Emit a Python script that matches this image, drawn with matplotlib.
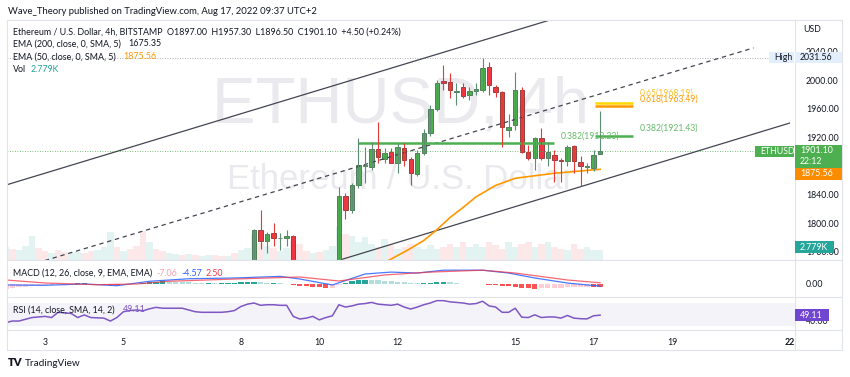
import matplotlib
matplotlib.use("Agg")
import matplotlib.pyplot as plt
from matplotlib.patches import Rectangle
from matplotlib.lines import Line2D

plt.rcParams['font.family'] = ['Lato', 'DejaVu Sans']

W, H = 850, 377
TXT = '#131722'
GRID = '#e0e3eb'

# ---- data: 4h candles, x = candle number counted from Aug 2 00:00 UTC (6 per day) ----
candle_x = [38, 39, 40, 41, 42, 43, 44] + list(range(51, 92))
opens = [1718, 1790, 1775, 1787, 1779, 1780, 1782,
         1700, 1838, 1819, 1854, 1880, 1879, 1904, 1890, 1900, 1885,
         1906, 1890, 1869, 1899, 1926, 1960, 1999, 1997, 1983, 1990,
         1980, 1985, 1987, 2018, 1990, 1983, 1930, 1937, 1987, 1900,
         1892, 1919, 1892, 1896, 1888, 1887, 1908, 1886, 1879, 1878, 1897]
highs = [1792, 1819, 1788, 1801, 1787, 1790, 1784,
         1851, 1842, 1856, 1919, 1907, 1914, 1942, 1906, 1906, 1913,
         1912, 1893, 1902, 1932, 1966, 2000, 2021, 2010, 1996, 1996,
         1990, 1996, 2031.56, 2025, 1994, 1985, 1953, 2011, 1990, 1910,
         1920, 1933, 1914, 1903, 1892, 1910, 1910, 1894, 1885, 1903, 1957.3]
lows = [1712, 1764, 1758, 1768, 1763, 1768, 1700,
        1690, 1806, 1815, 1850, 1857, 1875, 1885, 1884, 1884, 1871,
        1880, 1854, 1866, 1896, 1922, 1957, 1986, 1975, 1966, 1975,
        1972, 1980, 1983, 1980, 1976, 1907, 1921, 1930, 1898, 1888,
        1875, 1888, 1880, 1858, 1858, 1880, 1870, 1852, 1870, 1873, 1896.5]
closes = [1790, 1775, 1785, 1780, 1779.5, 1782, 1710,
          1838, 1819, 1854, 1882, 1882, 1904, 1893, 1899, 1885, 1907,
          1889, 1871, 1899, 1926, 1960, 1996, 1996, 1987, 1985, 1978,
          1985, 1988, 2017, 1993, 1983, 1935, 1935, 1987, 1900, 1892,
          1919, 1892, 1900, 1889, 1887, 1907, 1887, 1880, 1880, 1896, 1901.1]

# volume (K) and direction for every candle 0..91
vol_k = [3.6, 3.1, 2.8, 3.9, 6.7, 3.4, 2.5, 2.0, 2.8, 2.2, 2.0, 2.2, 2.0, 2.5, 2.8, 3.6, 7.8, 3.6, 2.5, 3.1,
         3.9, 8.1, 5.0, 3.1, 2.5, 2.0, 1.7, 1.4, 1.7, 1.4, 1.1, 1.4, 1.4, 1.1, 1.1, 2.0, 2.8, 3.4, 7.3, 4.8,
         3.9, 3.4, 2.5, 3.4, 5.3, 4.5, 2.5, 2.0, 2.2, 2.8, 3.9, 9.2, 7.3, 6.7, 5.0, 6.4, 4.5, 3.6, 5.9, 4.1,
         3.1, 3.6, 4.5, 3.6, 3.1, 4.1, 3.1, 3.6, 4.5, 3.6, 5.0, 3.6, 4.5, 3.6, 5.0, 4.1, 3.1, 5.0, 3.6, 4.5,
         5.0, 3.6, 4.5, 5.0, 3.6, 3.1, 2.8, 4.5, 3.1, 3.6, 2.8, 2.779]
vol_up = [1, 0, 1, 1, 1, 0, 0, 1, 0, 0, 1, 1, 0, 0, 1, 1, 1, 0, 1, 0,
          0, 0, 1, 0, 0, 1, 1, 0, 1, 0, 1, 1, 0, 0, 1, 0, 1, 1, 1, 0,
          1, 0, 1, 1, 0, 0, 0, 1, 0, 1, 1, 1, 0, 1, 1, 1, 1, 0, 1, 0,
          1, 0, 0, 1, 1, 1, 1, 0, 0, 1, 0, 1, 1, 1, 0, 0, 0, 1, 1, 0,
          0, 1, 0, 1, 0, 0, 1, 0, 0, 1, 1, 1]

macd_hist = [-10, -9, -7, -6, -5, -4, -3, -2, -1, 0.5, 1, 1.5, 1.5, 1, -0.5, -1.5, -2.5, -3, -2, -1,
             1, 2.5, 4, 5, 5.5, 5, 4.5, 4, 3.5, 3, 2.5, 2.5, 2, 2.5, 3, 3, 3.5, 4, 4, 3.5,
             3, 3, 2.5, 1, -2, -4, -5, -6, -7, -8, -8, -2, 3, 6, 8, 9, 8.5, 8, 6.5, 5.5,
             4.5, 3.5, 2, 1.5, 2, 3, 4, 4.5, 3.5, 2, 1, 0.5, 0.5, -0.5, -2, -3, -4.5, -5, -6, -8,
             -9, -10, -9, -8.5, -8, -7.5, -7, -6.5, -6.5, -6.5, -7, -7.06]
macd_x = [0, 6, 12, 17, 22, 28, 35, 42, 45, 50, 55, 59, 63, 67, 73, 77, 81, 86, 91]
macd_line = [-2.1, -2.7, 0, -3.6, 5.7, 11, 12.6, 16, 10.5, -2, 21, 25, 23, 29, 29, 23, 12.6, 2, -4.57]
signal_x = [0, 6, 14, 20, 25, 32, 40, 45, 51, 58, 65, 73, 78, 86, 91]
signal_line = [8.4, 2.1, -1.5, 0, 5.7, 9, 12.6, 14.7, 6.3, 19, 25, 29, 23, 8.4, 2.5]

rsi = [36.4, 39, 39, 42, 45, 46, 47, 45, 54, 53, 52, 45, 49.5, 45, 44.5, 44, 39, 45, 55, 57,
       58, 56.6, 60, 62.5, 61, 61, 61, 61, 58, 55, 54, 54, 54, 54, 55, 57, 64, 68, 70, 66,
       67, 67, 66, 66, 47, 42.5, 44, 47, 41, 45, 48, 67, 63, 65, 68, 69, 71, 68, 67, 66,
       68, 63, 59.6, 63, 67, 70, 74, 74, 72, 71, 70, 68, 69, 73, 65, 63, 54, 54, 61, 45.6,
       45, 49.7, 45, 46, 46, 44, 48.6, 44, 43, 42.7, 48, 49.11]

ema50_x = [56, 59, 62, 64, 66, 68, 70, 72, 75, 78, 84, 91]
ema50 = [1735, 1750, 1765, 1776, 1791, 1808, 1822, 1837, 1853, 1863, 1870, 1875.56]

# drawings: channel (x0, price0, x1, price1)
upper_line = (0, 1853.5, 90, 2102.8)
mid_line = (0, 1731.6, 114.5, 2045.3)
lower_line = (51.5, 1749.7, 120, 1940.1)

fib_price = [1912.23, 1921.43, 1963.49, 1968.19]
fib_text = ['0.382(1912.23)', '0.382(1921.43)', '0.618(1963.49)', '0.65(1968.19)']
fib_from = [54, 90.2, 90.2, 90.2]
fib_to = [84, 96, 96, 96]
fib_color = ['#4caf50', '#4caf50', '#ff9800', '#ffd600']
fib_tcolor = ['#66bb6a', '#66bb6a', '#ff9800', '#fbc02d']

high_price = 2031.56
last_price = 1901.10
ema50_last = 1875.56

day_ticks = [6, 18, 36, 48, 60, 78, 90, 102, 120]
day_labels = ['3', '5', '8', '10', '12', '15', '17', '19', '22']
price_ticks = [1760, 1800, 1840, 1920, 1960, 2000, 2040]   # 1880 sits under the price labels

# ---- layout (pixels of the 850x377 picture) ----
PLOT_X0, PLOT_X1, RIGHT = 7, 795, 842
MAIN_Y0, MAIN_Y1, MACD_Y1, RSI_Y1, BOTTOM = 20, 260, 296.7, 330, 350
PRICE_LIM = (1748.7, 2084.3)
XLIM = (0.17, 120.85)


def rect(x0, y0, x1, y1):
    return [x0 / W, 1 - y1 / H, (x1 - x0) / W, (y1 - y0) / H]


def fx(x):
    return x / W


def fy(y):
    return 1 - y / H


def price_px(p):
    return MAIN_Y0 + (PRICE_LIM[1] - p) / (PRICE_LIM[1] - PRICE_LIM[0]) * (MAIN_Y1 - MAIN_Y0)


fig = plt.figure(figsize=(W / 100, H / 100), dpi=100)
fig.patch.set_facecolor('white')

axv = fig.add_axes(rect(PLOT_X0, MAIN_Y0, PLOT_X1, MAIN_Y1))
ax = fig.add_axes(rect(PLOT_X0, MAIN_Y0, PLOT_X1, MAIN_Y1), sharex=axv)
axm = fig.add_axes(rect(PLOT_X0, MAIN_Y1, PLOT_X1, MACD_Y1), sharex=axv)
axr = fig.add_axes(rect(PLOT_X0, MACD_Y1, PLOT_X1, RSI_Y1), sharex=axv)
ax.patch.set_visible(False)
for a in (axv, ax, axm, axr):
    for s in a.spines.values():
        s.set_visible(False)
    a.tick_params(length=0)
for a in (axv, ax, axm):
    a.tick_params(axis='x', labelbottom=False)
axv.set_xlim(*XLIM)

# volume + watermark (bottom layer)
vcol = ['#26a69a' if u else '#ef5350' for u in vol_up]
axv.bar(range(len(vol_k)), vol_k, width=1.0, color=vcol, alpha=0.13, linewidth=0)
axv.set_ylim(0, 67.2)
axv.set_yticks([])
wm = '#eaeaee'
axv.text(0.4995, 0.645, 'ETHUSD, 4h', transform=axv.transAxes, ha='center', va='center',
         fontsize=47, color=wm, family=['Liberation Sans', 'DejaVu Sans'])
axv.text(0.4995, 0.335, 'Ethereum / U.S. Dollar', transform=axv.transAxes, ha='center', va='center',
         fontsize=25, color=wm, family=['Liberation Sans', 'DejaVu Sans'])

# main price pane
ax.set_ylim(*PRICE_LIM)
ax.yaxis.tick_right()
ax.set_yticks(price_ticks)
ax.set_yticklabels([f'{p:.2f}' for p in price_ticks])
ax.tick_params(axis='y', pad=8, labelsize=6.3, labelcolor=TXT)

ax.axhline(high_price, color='#9598a1', lw=0.6, ls=(0, (1, 2)))
ax.axhline(last_price, color='#4caf50', lw=0.6, ls=(0, (1, 2)))

for (x0, p0, x1, p1), ls in ((upper_line, '-'), (mid_line, (0, (3.5, 3))), (lower_line, '-')):
    ax.plot([x0, x1], [p0, p1], color='#434651', lw=0.9, ls=ls)

for p, a0, a1, lc in zip(fib_price, fib_from, fib_to, fib_color):
    ax.plot([a0, a1], [p, p], color=lc, lw=1.8, solid_capstyle='butt')

ax.plot(ema50_x, ema50, color='#ff9800', lw=1.2)

up = [c >= o for o, c in zip(opens, closes)]
wick_c = ['#5d8c74' if u else '#e53935' for u in up]
body_c = ['#4caf50' if u else '#f23645' for u in up]
edge_c = ['#2e5e35' if u else '#6d1b1b' for u in up]
ax.vlines(candle_x, lows, highs, colors=wick_c, lw=0.8)
bottoms = [min(o, c) for o, c in zip(opens, closes)]
heights = [max(abs(c - o), 0.8) for o, c in zip(opens, closes)]
ax.bar(candle_x, heights, bottom=bottoms, width=0.68, color=body_c, edgecolor=edge_c, linewidth=0.5)

offs = [5, 6, 5, 7]
for p, t, a1, tc, o in zip(fib_price, fib_text, fib_to, fib_tcolor, offs):
    ax.annotate(t, (a1 + 1.0, p), xytext=(0, o), textcoords='offset points',
                fontsize=6.2, color=tc, va='center', ha='left')

# MACD pane
axm.set_ylim(-26.7, 50.4)
hcol = []
for i, h in enumerate(macd_hist):
    prev = macd_hist[i - 1] if i > 0 else h
    if h >= 0:
        hcol.append('#26a69a' if h >= prev else '#b2dfdb')
    else:
        hcol.append('#ffcdd2' if h >= prev else '#ff5252')
axm.bar(range(len(macd_hist)), macd_hist, width=0.8, color=hcol, linewidth=0)
axm.plot(macd_x, macd_line, color='#2962ff', lw=0.9, alpha=0.85)
axm.plot(signal_x, signal_line, color='#f23645', lw=0.9, alpha=0.75)
axm.yaxis.tick_right()
axm.set_yticks([0])
axm.set_yticklabels(['0.00'])
axm.tick_params(axis='y', pad=8, labelsize=6.3, labelcolor=TXT)

# RSI pane
axr.set_ylim(23.6, 80.8)
axr.axhspan(30, 70, color='#7e57c2', alpha=0.07, lw=0)
axr.plot(range(len(rsi)), rsi, color='#7e57c2', lw=1.1)
axr.yaxis.tick_right()
axr.set_yticks([40])
axr.set_yticklabels(['40.00'])
axr.tick_params(axis='y', pad=8, labelsize=6.3, labelcolor=TXT)
axr.set_xticks(day_ticks)
axr.set_xticklabels(day_labels)
axr.tick_params(axis='x', pad=5.5, labelsize=6.3, labelcolor=TXT)
axr.get_xticklabels()[-1].set_fontweight('bold')


# frame lines
def fline(xs, ys):
    fig.add_artist(Line2D([fx(x) for x in xs], [fy(y) for y in ys], transform=fig.transFigure,
                          color=GRID, lw=0.8))


fline([PLOT_X0, RIGHT, RIGHT, PLOT_X0, PLOT_X0], [MAIN_Y0, MAIN_Y0, BOTTOM, BOTTOM, MAIN_Y0])
for yy in (MAIN_Y1, MACD_Y1, RSI_Y1):
    fline([PLOT_X0, RIGHT], [yy, yy])
fline([PLOT_X1, PLOT_X1], [MAIN_Y0, BOTTOM])


# axis labels with coloured boxes
def box(x0, x1, yc, h, bg, lines, fg, size=6.3):
    fig.add_artist(Rectangle((fx(x0), fy(yc + h / 2)), (x1 - x0) / W, h / H, transform=fig.transFigure,
                             facecolor=bg, edgecolor='none', zorder=5))
    n = len(lines)
    for k, t in enumerate(lines):
        yy = yc + (k - (n - 1) / 2) * (h / n)
        fig.text(fx(x0 + 5), fy(yy), t, fontsize=size, color=fg, va='center', ha='left', zorder=6)


yh = price_px(high_price)
box(769, 794, yh, 11, '#e3effd', ['High'], TXT)
box(PLOT_X1, RIGHT, yh, 11, '#e3effd', [f'{high_price:.2f}'], TXT)
yl = price_px(last_price)
box(755, 794, yl, 11, '#4caf50', ['ETHUSD'], 'white')
box(PLOT_X1, RIGHT, yl + 5, 23, '#4caf50', [f'{last_price:.2f}', '22:12'], 'white')
ye = max(price_px(ema50_last), yl + 5 + 11.5 + 6)
box(PLOT_X1, RIGHT, ye, 12, '#fb8c00', [f'{ema50_last:.2f}'], 'white')
yv = MAIN_Y1 - vol_k[-1] / 67.2 * (MAIN_Y1 - MAIN_Y0) - 3
box(PLOT_X1, 834, yv, 12, '#26a69a', [f'{vol_k[-1]:.3f}K'], 'white')
yr = MACD_Y1 + (80.8 - rsi[-1]) / (80.8 - 23.6) * (RSI_Y1 - MACD_Y1)
box(PLOT_X1, 829, yr, 12, '#7046d0', [f'{rsi[-1]:.2f}'], 'white')
fig.text(fx(803), fy(30), 'USD', fontsize=6.3, color=TXT, va='center')

# legends / header
fs = 6.4
fig.text(fx(8), fy(11), 'Wave_Theory published on TradingView.com, Aug 17, 2022 09:37 UTC+2',
         fontsize=6.8, color=TXT, va='center')
fig.text(fx(13), fy(32.3), 'Ethereum / U.S. Dollar, 4h, BITSTAMP  O1897.00  H1957.30  L1896.50  C1901.10  +4.50 (+0.24%)',
         fontsize=fs, color=TXT, va='center')
fig.text(fx(13), fy(44), 'EMA (200, close, 0, SMA, 5)', fontsize=fs, color=TXT, va='center')
fig.text(fx(128), fy(44), '1675.35', fontsize=fs, color=TXT, va='center')
fig.text(fx(13), fy(56.7), 'EMA (50, close, 0, SMA, 5)', fontsize=fs, color=TXT, va='center')
fig.text(fx(123), fy(56.7), f'{ema50_last:.2f}', fontsize=fs, color='#ff9800', va='center')
fig.text(fx(13), fy(69.3), 'Vol', fontsize=fs, color=TXT, va='center')
fig.text(fx(31), fy(69.3), f'{vol_k[-1]:.3f}K', fontsize=fs, color='#26a69a', va='center')

fig.text(fx(13), fy(273), 'MACD (12, 26, close, 9, EMA, EMA)', fontsize=fs, color=TXT, va='center')
fig.text(fx(156), fy(273), f'{macd_hist[-1]:.2f}', fontsize=fs, color='#f7a1ab', va='center')
fig.text(fx(181), fy(273), f'{macd_line[-1]:.2f}', fontsize=fs, color='#2962ff', va='center')
fig.text(fx(206), fy(273), f'{signal_line[-1]:.2f}', fontsize=fs, color='#f23645', va='center')
fig.text(fx(13), fy(309.7), 'RSI (14, close, SMA, 14, 2)', fontsize=fs, color=TXT, va='center')
fig.text(fx(123), fy(309.7), f'{rsi[-1]:.2f}', fontsize=fs, color='#7e57c2', va='center')

fig.text(fx(8), fy(363), 'TV', fontsize=8, color=TXT, va='center', fontweight='heavy')
fig.text(fx(25), fy(363), 'TradingView', fontsize=7.2, color=TXT, va='center')

fig.savefig('out.png', dpi=100, facecolor='white')
